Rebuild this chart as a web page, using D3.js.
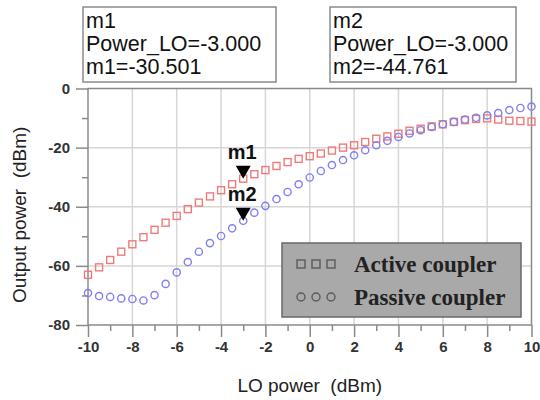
<!DOCTYPE html>
<html><head><meta charset="utf-8">
<script src="https://cdn.jsdelivr.net/npm/d3@7"></script>
<style>body{margin:0;background:#fff}svg{display:block}</style>
</head><body>
<svg id="chart" width="540" height="400"></svg>
<script>
// ---- data ----
const loPower = [-10,-9.5,-9,-8.5,-8,-7.5,-7,-6.5,-6,-5.5,-5,-4.5,-4,-3.5,-3,-2.5,-2,-1.5,-1,-0.5,0,0.5,1,1.5,2,2.5,3,3.5,4,4.5,5,5.5,6,6.5,7,7.5,8,8.5,9,9.5,10];
const activeCoupler = [-63.0,-60.5,-58.0,-55.2,-52.7,-50.3,-47.8,-45.4,-43.1,-40.8,-38.6,-36.5,-34.4,-32.4,-30.501,-29.0,-27.6,-26.2,-24.9,-23.8,-22.9,-22.0,-21.0,-20.0,-19.2,-18.1,-17.0,-16.2,-15.3,-14.3,-13.6,-12.8,-12.1,-11.3,-10.7,-10.3,-10.1,-10.5,-10.9,-11.0,-11.2];
const passiveCoupler = [-69.2,-70.2,-70.5,-71.0,-71.2,-71.7,-69.9,-66.1,-62.2,-58.7,-55.2,-52.3,-49.9,-47.3,-44.761,-42.0,-39.7,-37.4,-35.0,-32.4,-30.1,-27.9,-25.9,-24.2,-22.6,-20.9,-19.2,-17.7,-16.4,-15.2,-14.1,-13.0,-12.1,-11.3,-10.5,-9.9,-9.1,-8.3,-7.3,-6.6,-6.1];
const xTicks = [-10,-8,-6,-4,-2,0,2,4,6,8,10];
const xMinorTicks = [-9,-7,-5,-3,-1,1,3,5,7,9];
const yTicks = [0,-20,-40,-60,-80];
const yMinorTicks = [-10,-30,-50,-70];
const seriesNames = ["Active coupler","Passive coupler"];
const markerNames = ["m1","m2"];
const markerX = [-3,-3];
const markerY = [-30.501,-44.761];
const markerXLabel = "Power_LO";
const xTitle = "LO power  (dBm)";
const yTitle = "Output power  (dBm)";

// ---- layout ----
const svg = d3.select("#chart");
const L = 88, R = 531.5, T = 88.5, B = 325;
const x = d3.scaleLinear().domain([-10,10]).range([L,R]);
const y = d3.scaleLinear().domain([0,-80]).range([T,B]);
const axisCol = "#8a8a8a", gridCol = "#d6d6d6", textCol = "#222";
const redCol = "#f07a7a", blueCol = "#8080ee";
const fmt = d => String(d);

// grid
const g = svg.append("g");
g.selectAll("line.vg").data(xTicks.slice(1,-1)).join("line")
  .attr("x1",d=>x(d)).attr("x2",d=>x(d)).attr("y1",T).attr("y2",B)
  .attr("stroke",gridCol).attr("stroke-width",1.5);
g.selectAll("line.hg").data(yTicks.slice(1,-1)).join("line")
  .attr("x1",L).attr("x2",R).attr("y1",d=>y(d)).attr("y2",d=>y(d))
  .attr("stroke",gridCol).attr("stroke-width",1.5);

// axes (ticks via d3 axes)
function styleAxis(sel){
  sel.select(".domain").remove();
  sel.selectAll(".tick line").attr("stroke",axisCol).attr("stroke-width",1.5);
}
const xAxis = svg.append("g").attr("transform",`translate(0,${B})`)
  .call(d3.axisBottom(x).tickValues(xTicks).tickSize(12).tickPadding(6).tickFormat(fmt));
styleAxis(xAxis);
xAxis.selectAll("text").attr("font-family","Liberation Sans, Arial, sans-serif")
  .attr("font-size",15).attr("font-weight","bold").attr("fill","#333").attr("dy","0.62em");
const xAxisMinor = svg.append("g").attr("transform",`translate(0,${B})`)
  .call(d3.axisBottom(x).tickValues(xMinorTicks).tickSize(6).tickFormat(""));
styleAxis(xAxisMinor);

const yAxis = svg.append("g").attr("transform",`translate(${L},0)`)
  .call(d3.axisLeft(y).tickValues(yTicks).tickSize(12).tickPadding(6).tickFormat(fmt));
styleAxis(yAxis);
yAxis.selectAll("text").attr("font-family","Liberation Sans, Arial, sans-serif")
  .attr("font-size",15).attr("font-weight","bold").attr("fill","#333");
const yAxisMinor = svg.append("g").attr("transform",`translate(${L},0)`)
  .call(d3.axisLeft(y).tickValues(yMinorTicks).tickSize(6).tickFormat(""));
styleAxis(yAxisMinor);

// plot border
svg.append("rect").attr("x",L).attr("y",T).attr("width",R-L).attr("height",B-T)
  .attr("fill","none").attr("stroke",axisCol).attr("stroke-width",1.5);

// data
const active = loPower.map((v,i)=>({x:v,y:activeCoupler[i]}));
const passive = loPower.map((v,i)=>({x:v,y:passiveCoupler[i]}));
const sq = 7;
svg.append("g").selectAll("rect").data(active).join("rect")
  .attr("x",d=>x(d.x)-sq/2).attr("y",d=>y(d.y)-sq/2).attr("width",sq).attr("height",sq)
  .attr("fill","none").attr("stroke",redCol).attr("stroke-width",1.4);
svg.append("g").selectAll("circle").data(passive).join("circle")
  .attr("cx",d=>x(d.x)).attr("cy",d=>y(d.y)).attr("r",3.6)
  .attr("fill","none").attr("stroke",blueCol).attr("stroke-width",1.4);

// markers
const mk = svg.append("g");
markerNames.forEach((n,i)=>{
  const px = x(markerX[i]), py = y(markerY[i]);
  mk.append("path").attr("d",`M${px-7.5},${py-13}L${px+7.5},${py-13}L${px},${py}Z`).attr("fill","#000");
  mk.append("text").attr("x",px-1).attr("y",py-20).attr("text-anchor","middle")
    .attr("font-family","Liberation Sans, Arial, sans-serif").attr("font-size",20).attr("font-weight","bold")
    .attr("fill","#111").text(n);
});

// marker readout boxes
const boxX = [83, 330], boxW = [193, 186];
markerNames.forEach((n,i)=>{
  const bg = svg.append("g");
  bg.append("rect").attr("x",boxX[i]).attr("y",7).attr("width",boxW[i]).attr("height",75)
    .attr("fill","#fff").attr("stroke","#8a8a8a").attr("stroke-width",1.5);
  const lines = [n, `${markerXLabel}=-${Math.abs(markerX[i]).toFixed(3)}`, `${n}=-${Math.abs(markerY[i]).toFixed(3)}`];
  lines.forEach((t,j)=>{
    bg.append("text").attr("x",boxX[i]+3).attr("y",28+j*23)
      .attr("font-family","Liberation Sans, Arial, sans-serif").attr("font-size",21.5)
      .attr("fill","#111").text(t);
  });
});

// legend
const lg = svg.append("g");
lg.append("rect").attr("x",282).attr("y",243).attr("width",239).attr("height",74)
  .attr("fill","#a9a9a9").attr("stroke","#6a6a6a").attr("stroke-width",1.5);
const symX = [301,316,331];
seriesNames.forEach((s,i)=>{
  const cy = 264 + i*33;
  symX.forEach(sx=>{
    if(i===0) lg.append("rect").attr("x",sx-4).attr("y",cy-4).attr("width",8).attr("height",8)
      .attr("fill","none").attr("stroke","#5a5a5a").attr("stroke-width",1.4);
    else lg.append("circle").attr("cx",sx).attr("cy",cy).attr("r",4)
      .attr("fill","none").attr("stroke","#5a5a5a").attr("stroke-width",1.4);
  });
  lg.append("text").attr("x",354).attr("y",cy+8)
    .attr("font-family","Liberation Serif, Times New Roman, serif").attr("font-size",23).attr("font-weight","bold")
    .attr("fill","#222").text(s);
});

// titles
svg.append("text").attr("x",(L+R)/2).attr("y",392).attr("text-anchor","middle")
  .attr("font-family","Liberation Sans, Arial, sans-serif").attr("font-size",19).attr("fill",textCol)
  .style("white-space","pre").text(xTitle);
svg.append("text").attr("transform",`translate(26,${(T+B)/2+8}) rotate(-90)`).attr("text-anchor","middle")
  .attr("font-family","Liberation Sans, Arial, sans-serif").attr("font-size",19).attr("fill",textCol)
  .style("white-space","pre").text(yTitle);
</script>
</body></html>
